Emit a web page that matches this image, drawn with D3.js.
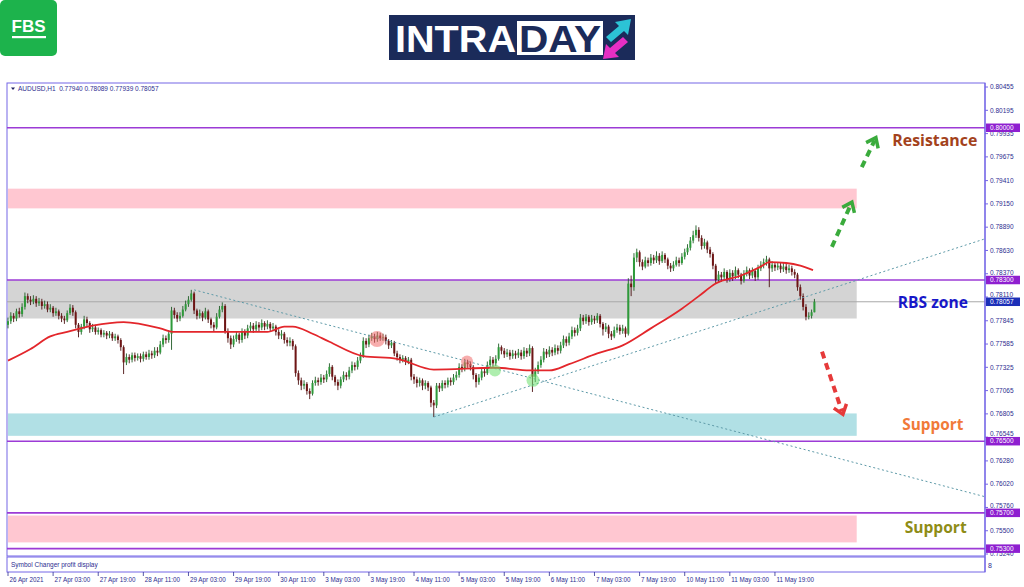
<!DOCTYPE html>
<html><head><meta charset="utf-8">
<script src="https://cdn.jsdelivr.net/npm/d3@7"></script>
<style>body{margin:0;background:#fff;} svg{display:block;}</style>
</head><body>
<svg id="c" width="1024" height="587"></svg>
<script>
// ---------------- DATA ----------------
const symbolInfo = "AUDUSD,H1  0.77940 0.78089 0.77939 0.78057";
const firstOpen = 0.7780;
const closes = [
0.7784,0.7790,0.7787,0.7795,0.7792,0.7800,0.7812,0.7808,0.7806,0.7809,
0.7804,0.7806,0.7801,0.7803,0.7797,0.7799,0.7793,0.7795,0.7790,0.7787,
0.7785,0.7793,0.7799,0.7794,0.7780,0.7772,0.7778,0.7786,0.7782,0.7775,
0.7777,0.7772,0.7774,0.7769,0.7771,0.7768,0.7770,0.7765,0.7767,0.7763,
0.7755,0.7738,0.7744,0.7741,0.7746,0.7743,0.7745,0.7742,0.7747,0.7744,
0.7748,0.7746,0.7751,0.7749,0.7758,0.7765,0.7763,0.7770,0.7796,0.7791,
0.7787,0.7790,0.7797,0.7803,0.7808,0.7815,0.7796,0.7790,0.7793,0.7788,
0.7795,0.7786,0.7780,0.7777,0.7789,0.7797,0.7801,0.7773,0.7765,0.7758,
0.7764,0.7769,0.7763,0.7772,0.7768,0.7776,0.7779,0.7775,0.7780,0.7777,
0.7782,0.7778,0.7781,0.7776,0.7778,0.7772,0.7768,0.7770,0.7763,0.7760,
0.7762,0.7756,0.7726,0.7718,0.7712,0.7714,0.7706,0.7703,0.7715,0.7718,
0.7716,0.7721,0.7719,0.7725,0.7733,0.7722,0.7716,0.7712,0.7719,0.7724,
0.7722,0.7729,0.7735,0.7733,0.7740,0.7745,0.7762,0.7758,0.7765,0.7767,
0.7764,0.7768,0.7765,0.7766,0.7762,0.7757,0.7760,0.7748,0.7744,0.7741,
0.7743,0.7739,0.7741,0.7722,0.7719,0.7715,0.7718,0.7712,0.7715,0.7710,
0.7693,0.7690,0.7712,0.7709,0.7715,0.7713,0.7718,0.7716,0.7721,0.7724,
0.7733,0.7731,0.7738,0.7736,0.7733,0.7724,0.7716,0.7721,0.7728,0.7726,
0.7735,0.7741,0.7737,0.7742,0.7755,0.7751,0.7747,0.7749,0.7745,0.7748,
0.7746,0.7749,0.7745,0.7751,0.7748,0.7754,0.7722,0.7728,0.7735,0.7741,
0.7750,0.7747,0.7752,0.7749,0.7754,0.7751,0.7757,0.7764,0.7760,0.7767,
0.7774,0.7771,0.7776,0.7788,0.7784,0.7789,0.7783,0.7787,0.7785,0.7790,
0.7781,0.7775,0.7778,0.7770,0.7767,0.7774,0.7777,0.7773,0.7776,0.7770,
0.7826,0.7822,0.7855,0.7861,0.7850,0.7845,0.7852,0.7849,0.7855,0.7852,
0.7857,0.7851,0.7858,0.7853,0.7846,0.7843,0.7847,0.7852,0.7849,0.7856,
0.7861,0.7866,0.7874,0.7880,0.7886,0.7877,0.7868,0.7872,0.7864,0.7859,
0.7846,0.7830,0.7836,0.7833,0.7839,0.7831,0.7838,0.7834,0.7841,0.7836,
0.7829,0.7837,0.7841,0.7835,0.7840,0.7833,0.7843,0.7847,0.7850,0.7853,
0.7843,0.7847,0.7844,0.7846,0.7842,0.7845,0.7841,0.7843,0.7839,0.7836,
0.7822,0.7812,0.7800,0.7789,0.7790,0.7794,0.78057];
const highs = [
0.7788,0.7794,0.7793,0.7798,0.7799,0.7804,0.7816,0.7815,0.7812,0.7813,
0.7812,0.7810,0.7809,0.7807,0.7806,0.7803,0.7801,0.7799,0.7797,0.7793,
0.7790,0.7796,0.7803,0.7802,0.7796,0.7782,0.7781,0.7790,0.7789,0.7784,
0.7781,0.7780,0.7777,0.7776,0.7774,0.7773,0.7773,0.7772,0.7770,0.7769,
0.7765,0.7757,0.7748,0.7747,0.7749,0.7749,0.7748,0.7748,0.7750,0.7750,
0.7752,0.7751,0.7755,0.7755,0.7762,0.7769,0.7768,0.7774,0.7800,0.7799,
0.7794,0.7794,0.7801,0.7807,0.7812,0.7819,0.7817,0.7798,0.7797,0.7795,
0.7799,0.7797,0.7788,0.7783,0.7793,0.7801,0.7805,0.7803,0.7776,0.7768,
0.7768,0.7773,0.7771,0.7776,0.7775,0.7780,0.7783,0.7782,0.7784,0.7783,
0.7786,0.7784,0.7785,0.7783,0.7782,0.7780,0.7775,0.7774,0.7772,0.7766,
0.7766,0.7764,0.7758,0.7729,0.7721,0.7718,0.7716,0.7709,0.7718,0.7722,
0.7721,0.7725,0.7724,0.7729,0.7737,0.7735,0.7724,0.7719,0.7722,0.7728,
0.7727,0.7733,0.7739,0.7738,0.7744,0.7749,0.7766,0.7765,0.7769,0.7771,
0.7770,0.7772,0.7771,0.7770,0.7769,0.7764,0.7763,0.7762,0.7751,0.7747,
0.7746,0.7745,0.7744,0.7743,0.7725,0.7722,0.7721,0.7720,0.7718,0.7717,
0.7712,0.7696,0.7715,0.7715,0.7718,0.7718,0.7721,0.7721,0.7725,0.7728,
0.7737,0.7736,0.7742,0.7741,0.7739,0.7735,0.7726,0.7725,0.7732,0.7731,
0.7739,0.7745,0.7744,0.7746,0.7759,0.7757,0.7754,0.7753,0.7752,0.7752,
0.7751,0.7753,0.7752,0.7755,0.7754,0.7758,0.7756,0.7732,0.7739,0.7745,
0.7754,0.7753,0.7756,0.7755,0.7758,0.7757,0.7761,0.7768,0.7767,0.7771,
0.7778,0.7777,0.7780,0.7792,0.7791,0.7792,0.7791,0.7791,0.7790,0.7793,
0.7792,0.7783,0.7782,0.7780,0.7773,0.7778,0.7781,0.7780,0.7780,0.7778,
0.7832,0.7835,0.7860,0.7865,0.7863,0.7853,0.7856,0.7855,0.7859,0.7858,
0.7862,0.7860,0.7862,0.7860,0.7855,0.7849,0.7851,0.7856,0.7855,0.7860,
0.7865,0.7870,0.7878,0.7885,0.7891,0.7889,0.7880,0.7876,0.7874,0.7867,
0.7861,0.7848,0.7840,0.7839,0.7843,0.7841,0.7842,0.7841,0.7845,0.7843,
0.7838,0.7841,0.7845,0.7843,0.7844,0.7842,0.7847,0.7851,0.7854,0.7857,
0.7855,0.7851,0.7850,0.7850,0.7849,0.7849,0.7848,0.7847,0.7846,0.7842,
0.7838,0.7825,0.7815,0.7803,0.7794,0.7797,0.78089];
const lows = [
0.7776,0.7781,0.7783,0.7784,0.7788,0.7789,0.7797,0.7804,0.7802,0.7803,
0.7800,0.7801,0.7797,0.7798,0.7794,0.7794,0.7789,0.7790,0.7786,0.7783,
0.7781,0.7783,0.7791,0.7790,0.7776,0.7766,0.7769,0.7775,0.7778,0.7771,
0.7772,0.7769,0.7769,0.7766,0.7766,0.7764,0.7765,0.7762,0.7762,0.7759,
0.7751,0.7725,0.7735,0.7737,0.7738,0.7739,0.7740,0.7738,0.7739,0.7741,
0.7741,0.7742,0.7743,0.7745,0.7747,0.7755,0.7759,0.7760,0.7752,0.7787,
0.7783,0.7784,0.7788,0.7795,0.7800,0.7806,0.7792,0.7786,0.7787,0.7784,
0.7786,0.7782,0.7776,0.7773,0.7775,0.7787,0.7794,0.7770,0.7760,0.7753,
0.7755,0.7761,0.7759,0.7760,0.7764,0.7765,0.7773,0.7771,0.7772,0.7773,
0.7774,0.7774,0.7775,0.7772,0.7773,0.7768,0.7764,0.7764,0.7759,0.7756,
0.7756,0.7752,0.7722,0.7713,0.7707,0.7708,0.7702,0.7697,0.7701,0.7712,
0.7712,0.7713,0.7715,0.7716,0.7722,0.7718,0.7712,0.7707,0.7709,0.7716,
0.7718,0.7719,0.7726,0.7729,0.7730,0.7737,0.7743,0.7754,0.7755,0.7762,
0.7760,0.7761,0.7762,0.7762,0.7758,0.7753,0.7754,0.7745,0.7740,0.7737,
0.7738,0.7735,0.7736,0.7718,0.7714,0.7710,0.7711,0.7707,0.7708,0.7706,
0.7688,0.7677,0.7687,0.7705,0.7706,0.7709,0.7710,0.7712,0.7713,0.7718,
0.7721,0.7727,0.7728,0.7732,0.7729,0.7719,0.7710,0.7713,0.7718,0.7722,
0.7724,0.7732,0.7733,0.7734,0.7740,0.7747,0.7743,0.7744,0.7741,0.7742,
0.7742,0.7743,0.7741,0.7742,0.7744,0.7745,0.7705,0.7716,0.7725,0.7732,
0.7738,0.7743,0.7744,0.7745,0.7746,0.7747,0.7748,0.7754,0.7756,0.7757,
0.7764,0.7767,0.7768,0.7773,0.7780,0.7781,0.7779,0.7780,0.7781,0.7782,
0.7777,0.7768,0.7772,0.7765,0.7763,0.7765,0.7771,0.7769,0.7770,0.7766,
0.7768,0.7812,0.7818,0.7850,0.7845,0.7841,0.7843,0.7845,0.7846,0.7848,
0.7849,0.7847,0.7849,0.7849,0.7842,0.7839,0.7840,0.7845,0.7845,0.7847,
0.7853,0.7858,0.7863,0.7871,0.7877,0.7873,0.7864,0.7865,0.7860,0.7855,
0.7842,0.7826,0.7827,0.7828,0.7830,0.7827,0.7828,0.7829,0.7831,0.7832,
0.7825,0.7827,0.7834,0.7831,0.7832,0.7829,0.7830,0.7840,0.7843,0.7846,
0.7822,0.7839,0.7840,0.7841,0.7838,0.7839,0.7837,0.7838,0.7835,0.7832,
0.7818,0.7808,0.7796,0.7785,0.7786,0.7787,0.77939];

// moving average (sampled along the bars)
const maIdx = [0,8,15,21,30,41,54,58.5,78,92,98,101,108,114,126,138,151,173,185,192,199,209,218,228,239,245,251,260,267,270,276,281,285.5];
const maVal = [0.7740,0.7753,0.7767,0.7772,0.7779,0.7783,0.7776,0.7772,0.7772,0.7772,0.7778,0.7778,0.7770,0.7761,0.7745,0.7742,0.7730,0.7732,0.7729,0.7729,0.7736,0.7748,0.7757,0.7776,0.7798,0.7812,0.7826,0.7835,0.7845,0.7850,0.7849,0.7846,0.7841];

const timeLabels = ["26 Apr 2021","27 Apr 03:00","27 Apr 19:00","28 Apr 11:00","29 Apr 03:00","29 Apr 19:00","30 Apr 11:00","3 May 03:00","3 May 19:00","4 May 11:00","5 May 03:00","5 May 19:00","6 May 11:00","7 May 03:00","7 May 19:00","10 May 11:00","11 May 03:00","11 May 19:00"];
const barsPerLabel = 16;
const priceTicks = [0.80455,0.80195,0.79935,0.79675,0.79410,0.79150,0.78890,0.78630,0.78370,0.78110,0.77845,0.77585,0.77325,0.77065,0.76805,0.76545,0.76280,0.76020,0.75760,0.75500,0.75240];
const levelLines = [0.80000,0.78300,0.76500,0.75700,0.75300];
const currentPrice = 0.78057;

// zones: [top, bottom]
const zoneTops = [0.7932,0.7830,0.7681,0.7567];
const zoneBottoms = [0.7910,0.7787,0.7656,0.7537];
const zoneEndIdx = 301;

// trend lines [idx1, price1, idx2, price2]
const trendDown = [66, 0.7819, 346.5, 0.7588];
const trendUp = [151, 0.7677, 346.5, 0.7876];

// highlighted touches
const touchIdx = [130.9, 162.8, 172.7, 186.2];
const touchPrice = [0.7764, 0.7739, 0.7729, 0.7718];

// arrows [idx1, price1, idx2, price2]
const arrowsUp = [[292.2,0.7867,299.3,0.7917],[302.8,0.7956,307.8,0.7989]];
const arrowsDown = [[288.7,0.7750,296.1,0.7680]];

const zoneLabels = ["Resistance","RBS zone","Support","Support"];
const zoneLabelIdx = [328.7,328,328,329];
const zoneLabelPrice = [0.7980,0.7799,0.7662,0.7547];

// ---------------- DRAW ----------------
const svg = d3.select("#c");
const P = {left:7, right:985, top:83, bottom:556};
const x = d3.scaleLinear().domain([0,346.5]).range([8,985]);
const y = d3.scaleLinear().domain([0.75218,0.805]).range([P.bottom,P.top]);

const frameCol = "#7466e6", axisText = "#2d2d90";

// FBS logo
const fbs = svg.append("g");
fbs.append("rect").attr("x",0).attr("y",0).attr("width",57).attr("height",56).attr("rx",5).attr("fill","#1db34c");
fbs.append("text").attr("x",28.5).attr("y",32).attr("text-anchor","middle").attr("font-family","Liberation Sans, Arial, sans-serif")
  .attr("font-weight","bold").attr("font-size",17).attr("fill","#fff").text("FBS");
fbs.append("rect").attr("x",12).attr("y",36).attr("width",34).attr("height",2.2).attr("fill","#fff");

// INTRADAY logo
const lg = svg.append("g");
lg.append("rect").attr("x",389).attr("y",15).attr("width",246).attr("height",45).attr("fill","#1b2b5a");
lg.append("rect").attr("x",517).attr("y",21).attr("width",86).attr("height",34).attr("fill","#fff");
lg.append("text").attr("x",395).attr("y",52).attr("font-family","Liberation Sans, Arial, sans-serif").attr("font-weight","bold")
  .attr("font-size",37).attr("fill","#fff").attr("textLength",121).attr("lengthAdjust","spacingAndGlyphs").text("INTRA");
lg.append("text").attr("x",519).attr("y",52).attr("font-family","Liberation Sans, Arial, sans-serif").attr("font-weight","bold")
  .attr("font-size",37).attr("fill","#1b2b5a").attr("textLength",82).attr("lengthAdjust","spacingAndGlyphs").text("DAY");
lg.append("polygon").attr("points","606,37 619,26 615,22 631,19 628,35 624,31 611,42").attr("fill","#2cc3d6");
lg.append("polygon").attr("points","628,42 615,53 619,57 603,59 606,44 610,48 623,37").attr("fill","#e72fc4");

// frame
svg.append("rect").attr("x",P.left).attr("y",P.top).attr("width",P.right-P.left).attr("height",P.bottom-P.top)
  .attr("fill","#fff").attr("stroke",frameCol).attr("stroke-width",1);
svg.append("rect").attr("x",P.left).attr("y",557).attr("width",P.right-P.left).attr("height",15)
  .attr("fill","#fff").attr("stroke",frameCol).attr("stroke-width",1);
svg.append("text").attr("x",11).attr("y",567).attr("font-family","Liberation Sans, Arial, sans-serif").attr("font-size",6.5)
  .attr("fill",axisText).text("Symbol Changer profit display");
svg.append("text").attr("x",988).attr("y",568).attr("font-family","Liberation Sans, Arial, sans-serif").attr("font-size",7)
  .attr("fill",axisText).text("8");

svg.append("defs").append("clipPath").attr("id","clip").append("rect")
  .attr("x",P.left).attr("y",P.top).attr("width",P.right-P.left).attr("height",P.bottom-P.top);
const g = svg.append("g").attr("clip-path","url(#clip)");

// zones
const zoneFill = ["#ffc7d1","#d4d4d4","#b1e0e5","#ffc7d1"];
g.selectAll("rect.zone").data(zoneTops).join("rect").attr("class","zone")
  .attr("x",x(0)).attr("width",x(zoneEndIdx)-x(0))
  .attr("y",(d)=>y(d)).attr("height",(d,i)=>y(zoneBottoms[i])-y(d))
  .attr("fill",(d,i)=>zoneFill[i]);

// current price line
g.append("line").attr("x1",P.left).attr("x2",P.right).attr("y1",y(currentPrice)).attr("y2",y(currentPrice))
  .attr("stroke","#a8a8a8").attr("stroke-width",1);

// level lines
g.selectAll("line.lvl").data(levelLines).join("line").attr("class","lvl")
  .attr("x1",P.left).attr("x2",P.right).attr("y1",d=>y(d)).attr("y2",d=>y(d))
  .attr("stroke","#9c3bd6").attr("stroke-width",1.6);

// candles
const bars = closes.map((c,i)=>({i, o: i? closes[i-1] : firstOpen, h: highs[i], l: lows[i], c}));
const bull = "#2e9a3a", bear = "#6e1515";
g.selectAll("line.wick").data(bars).join("line").attr("class","wick")
  .attr("x1",d=>x(d.i)).attr("x2",d=>x(d.i)).attr("y1",d=>y(d.h)).attr("y2",d=>y(d.l))
  .attr("stroke",d=>d.c>=d.o? "#1f5a26" : "#4a1010").attr("stroke-width",0.9);
g.selectAll("rect.body").data(bars).join("rect").attr("class","body")
  .attr("x",d=>x(d.i)-1).attr("width",2)
  .attr("y",d=>y(Math.max(d.o,d.c))).attr("height",d=>Math.max(0.8,Math.abs(y(d.o)-y(d.c))))
  .attr("fill",d=>d.c>=d.o? bull : bear);

// trend lines
[trendDown,trendUp].forEach(t=>{
  g.append("line").attr("x1",x(t[0])).attr("y1",y(t[1])).attr("x2",x(t[2])).attr("y2",y(t[3]))
   .attr("stroke","#5e9aa8").attr("stroke-width",1).attr("stroke-dasharray","2,2.5");
});

// MA
const maLine = d3.line().x(d=>x(d[0])).y(d=>y(d[1])).curve(d3.curveMonotoneX);
g.append("path").datum(maIdx.map((v,i)=>[v,maVal[i]])).attr("d",maLine)
  .attr("fill","none").attr("stroke","#e3262b").attr("stroke-width",1.8);

// touch circles
const touchCol = ["#f06a6a","#f06a6a","#6be06b","#6be06b"];
const touchR = [8,6,6,6.5];
g.selectAll("circle.touch").data(touchIdx).join("circle").attr("class","touch")
  .attr("cx",d=>x(d)).attr("cy",(d,i)=>y(touchPrice[i])).attr("r",(d,i)=>touchR[i])
  .attr("fill",(d,i)=>touchCol[i]).attr("fill-opacity",0.55);

// arrows
function arrow(a,col){
  const x1=x(a[0]),y1=y(a[1]),x2=x(a[2]),y2=y(a[3]);
  const ang=Math.atan2(y2-y1,x2-x1);
  g.append("line").attr("x1",x1).attr("y1",y1).attr("x2",x2-Math.cos(ang)*3).attr("y2",y2-Math.sin(ang)*3)
    .attr("stroke",col).attr("stroke-width",4).attr("stroke-dasharray","7,5");
  const L=11, s=0.65;
  const p = [[x2-L*Math.cos(ang-s), y2-L*Math.sin(ang-s)],[x2,y2],[x2-L*Math.cos(ang+s), y2-L*Math.sin(ang+s)]];
  g.append("path").attr("d","M"+p.map(q=>q.join(",")).join("L")).attr("fill","none")
    .attr("stroke",col).attr("stroke-width",3.5).attr("stroke-linejoin","miter");
}
arrowsUp.forEach(a=>arrow(a,"#3aab3c"));
arrowsDown.forEach(a=>arrow(a,"#e63a3a"));

// zone labels
const labelCol = ["#a3421c","#1717c8","#f17a39","#8e8c16"];
const labelLen = [85,70,61,62];
svg.selectAll("text.zl").data(zoneLabels).join("text").attr("class","zl")
  .attr("x",(d,i)=>x(zoneLabelIdx[i])).attr("y",(d,i)=>y(zoneLabelPrice[i]))
  .attr("text-anchor","middle").attr("font-family","Open Sans, Noto Sans, sans-serif").attr("font-weight","bold")
  .attr("font-size",16).attr("fill",(d,i)=>labelCol[i])
  .attr("textLength",(d,i)=>labelLen[i]).attr("lengthAdjust","spacingAndGlyphs").text(d=>d);

// header info
svg.append("path").attr("d","M11,87.5 L15,87.5 L13,90 Z").attr("fill","#1e1e60");
svg.append("text").attr("x",18).attr("y",91).attr("font-family","Liberation Sans, Arial, sans-serif").attr("font-size",6.5)
  .attr("fill",axisText).attr("xml:space","preserve").text(symbolInfo);

// right axis
svg.append("line").attr("x1",P.right).attr("x2",P.right).attr("y1",P.top).attr("y2",572).attr("stroke",frameCol).attr("stroke-width",1.2);
const tagVals = levelLines.concat([currentPrice]);
const tagCol = levelLines.map(()=>"#8e1fd0").concat(["#1c2fb8"]);
const tagH = 8.5;
// tick labels that would sit under a price tag are lifted just above it (as they peek out in the original)
function tickTextY(v){
  const yy = y(v);
  for (const t of tagVals){
    const ty = y(t);
    if (yy < ty && ty - yy < tagH + 1) return ty - tagH/2 - 0.6;
  }
  return yy + 2.3;
}
const ra = svg.append("g");
ra.selectAll("line").data(priceTicks).join("line").attr("x1",P.right).attr("x2",P.right+3)
  .attr("y1",d=>y(d)).attr("y2",d=>y(d)).attr("stroke",frameCol);
ra.selectAll("text").data(priceTicks).join("text").attr("x",990).attr("y",d=>tickTextY(d))
  .attr("font-family","Liberation Sans, Arial, sans-serif").attr("font-size",6.5).attr("fill",axisText)
  .text(d=>d.toFixed(5));
const tags = svg.append("g");
tags.selectAll("rect").data(tagVals).join("rect").attr("x",986).attr("width",34).attr("y",d=>y(d)-tagH/2).attr("height",tagH)
  .attr("fill",(d,i)=>tagCol[i]);
tags.selectAll("text").data(tagVals).join("text").attr("x",990).attr("y",d=>y(d)).attr("dy","0.35em")
  .attr("font-family","Liberation Sans, Arial, sans-serif").attr("font-size",6.5).attr("fill","#fff").text(d=>d.toFixed(5));

// time axis
const ta = svg.append("g");
ta.selectAll("line").data(timeLabels).join("line").attr("x1",(d,i)=>x(i*barsPerLabel)).attr("x2",(d,i)=>x(i*barsPerLabel))
  .attr("y1",572).attr("y2",576).attr("stroke",axisText).attr("stroke-width",0.8);
ta.selectAll("text").data(timeLabels).join("text").attr("x",(d,i)=>x(i*barsPerLabel)+1.5).attr("y",582)
  .attr("font-family","Liberation Sans, Arial, sans-serif").attr("font-size",6.3).attr("fill",axisText).text(d=>d);
</script>
</body></html>
